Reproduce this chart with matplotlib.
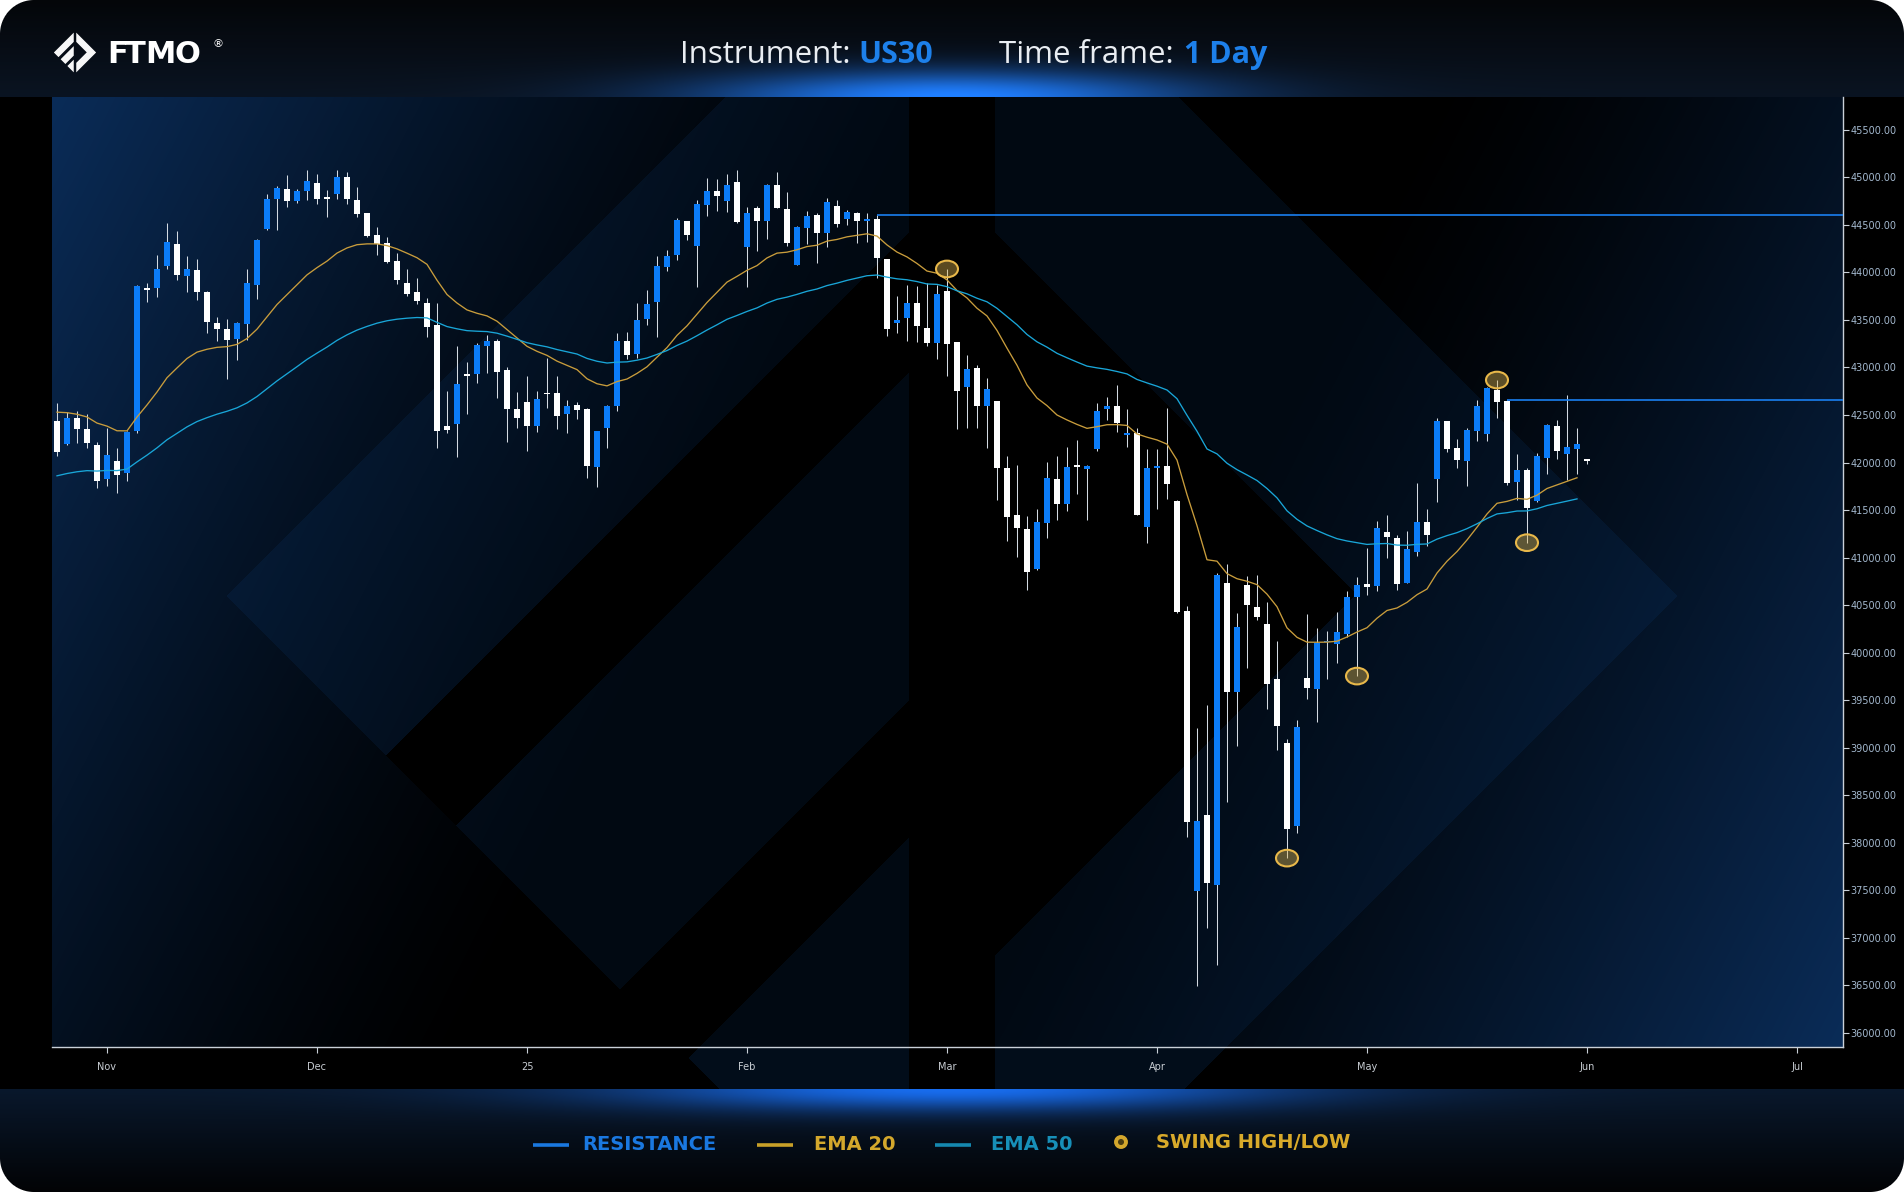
"""US30 daily candles with EMA 20/50, resistance levels and swing markers (FTMO style)."""

import numpy as np
import pandas as pd
import matplotlib

matplotlib.use("Agg")
import matplotlib.pyplot as plt
from matplotlib.patches import Ellipse, Circle
from matplotlib.ticker import FuncFormatter

# ---- data (one candle per trading day, index 0 = 25 Oct) ----
opens = [
    42437, 42195, 42472, 42352, 42184, 41826, 42016, 41893, 42331, 43830,
    43840, 44072, 44300, 43967, 44026, 43794, 43468, 43405, 43303, 43461,
    43868, 44458, 44774, 44879, 44753, 44858, 44942, 44788, 44830, 45005,
    44763, 44626, 44395, 44310, 44121, 43889, 43794, 43679, 43447, 42380,
    42405, 42925, 42935, 43226, 43279, 42974, 42566, 42637, 42387, 42730,
    42731, 42514, 42605, 42563, 41956, 42366, 42595, 43279, 43142, 43514,
    43693, 44061, 44184, 44542, 44279, 44710, 44858, 44753, 44953, 44268,
    44679, 44546, 44921, 44668, 44082, 44468, 44605, 44416, 44700, 44563,
    44626, 44546, 44563, 44142, 43472, 43521, 43679, 43416, 43258, 43805,
    43268, 42795, 42995, 42595, 42647, 41942, 41447, 41300, 40879, 41363,
    41826, 41566, 41962, 41935, 42137, 42560, 42593, 42295, 42306, 41324,
    41950, 41968, 41600, 40437, 37485, 38288, 37553, 40733, 39587, 40711,
    40479, 40301, 39722, 39050, 38178, 39730, 39620, 40110, 40086, 40196,
    40585, 40721, 40700, 41268, 41205, 40731, 41058, 41374, 41826, 42437,
    42153, 42016, 42331, 42300, 42763, 42647, 41795, 41921, 41595, 42050,
    42384, 42089, 42142, 42026,
]
highs = [
    42623, 42528, 42542, 42507, 42212, 42366, 42149, 42330, 43870, 43893,
    44184, 44521, 44437, 44174, 44142, 43800, 43531, 43510, 43479, 44037,
    44350, 44826, 44911, 45026, 44879, 45079, 45037, 44868, 45079, 45061,
    44900, 44630, 44479, 44374, 44205, 44037, 43942, 43732, 43679, 42752,
    43226, 43058, 43258, 43342, 43300, 43005, 42742, 42910, 42752, 43100,
    42910, 42658, 42637, 42570, 42335, 42605, 43363, 43374, 43675, 43816,
    44174, 44237, 44570, 44545, 44763, 44995, 44984, 45037, 45079, 44693,
    44700, 44932, 45054, 44847, 44485, 44647, 44630, 44784, 44763, 44658,
    44640, 44626, 44600, 44145, 43756, 43868, 43858, 43889, 43868, 44037,
    43270, 43131, 43026, 42889, 42650, 42068, 41973, 41437, 41510, 42005,
    42068, 42163, 42237, 41975, 42627, 42691, 42818, 42564, 42361, 42141,
    42141, 42572, 41605, 40487, 39206, 39443, 40838, 40931, 40415, 40805,
    40817, 40530, 40120, 39092, 39295, 40403, 40259, 40225, 40428, 40648,
    40796, 41100, 41384, 41447, 41237, 41279, 41784, 41510, 42468, 42440,
    42247, 42363, 42658, 42790, 42868, 42660, 42089, 41942, 42100, 42405,
    42447, 42710, 42363, 42030,
]
lows = [
    42072, 42184, 42202, 42156, 41735, 41752, 41675, 41805, 42314, 43689,
    43742, 44037, 43921, 43798, 43714, 43367, 43279, 42882, 43079, 43286,
    43724, 44447, 44447, 44689, 44735, 44763, 44725, 44588, 44774, 44725,
    44584, 44374, 44188, 44105, 43879, 43753, 43668, 43321, 42156, 42310,
    42061, 42514, 42840, 42942, 42682, 42216, 42366, 42124, 42324, 42577,
    42356, 42314, 42461, 41840, 41745, 42156, 42545, 43093, 43096, 43447,
    43324, 44019, 44132, 44342, 43851, 44595, 44647, 44640, 44518, 43844,
    44230, 44353, 44680, 44282, 44075, 44300, 44096, 44268, 44482, 44500,
    44314, 44325, 43946, 43335, 43360, 43282, 43272, 43230, 43086, 42910,
    42356, 42366, 42366, 42156, 41609, 41177, 41008, 40658, 40868, 41205,
    41395, 41493, 41672, 41400, 42120, 42445, 42319, 42158, 41443, 41156,
    41515, 41621, 40415, 38060, 36491, 37104, 36707, 38428, 39020, 39836,
    40344, 39409, 38969, 37836, 38102, 39506, 39265, 39718, 39887, 40162,
    39752, 40605, 40647, 40994, 40658, 40731, 41016, 41121, 41584, 42110,
    41942, 41752, 42226, 42226, 42468, 41763, 41605, 41156, 41584, 41879,
    42037, 41816, 41879, 41984,
]
closes = [
    42114, 42472, 42352, 42205, 41805, 42079, 41868, 42324, 43858, 43818,
    44037, 44321, 43974, 44037, 43798, 43479, 43405, 43289, 43468, 43889,
    44342, 44774, 44889, 44753, 44858, 44963, 44774, 44774, 45005, 44774,
    44616, 44384, 44300, 44110, 43921, 43774, 43700, 43426, 42331, 42340,
    42826, 42915, 43237, 43279, 42956, 42566, 42472, 42387, 42668, 42722,
    42493, 42595, 42556, 41966, 42331, 42595, 43279, 43135, 43500, 43668,
    44068, 44174, 44553, 44395, 44721, 44858, 44805, 44921, 44535, 44626,
    44546, 44921, 44682, 44310, 44479, 44595, 44419, 44742, 44514, 44637,
    44546, 44556, 44156, 43405, 43500, 43679, 43440, 43258, 43774, 43251,
    42756, 42984, 42595, 42773, 41942, 41430, 41314, 40847, 41373, 41837,
    41563, 41952, 41955, 41967, 42543, 42593, 42412, 42305, 41452, 41942,
    41960, 41777, 40428, 38216, 38225, 37569, 40817, 39587, 40268, 40500,
    40373, 39667, 39223, 38145, 39214, 39625, 40098, 40122, 40212, 40585,
    40711, 40693, 41310, 41216, 40721, 41089, 41374, 41237, 42437, 42142,
    42026, 42342, 42595, 42784, 42637, 41784, 41921, 41521, 42068, 42395,
    42121, 42163, 42195, 42020,
]

month_ticks = [5, 26, 47, 69, 89, 110, 131, 153, 174]
month_labels = ["Nov", "Dec", "25", "Feb", "Mar", "Apr", "May", "Jun", "Jul"]

resistance_levels = [44600, 42660]
resistance_start = [82, 145]

swing_idx = [89, 123, 130, 144, 147]
swing_kind = ["high", "low", "low", "high", "low"]

# EMA values at the first visible candle
ema20_start = 42530
ema50_start = 41860

# ---- colours ----
BLUE = "#0b7cf8"
WHITE = "#ffffff"
WICK = "#d3dae2"
EMA20_COL = "#c99d3c"
EMA50_COL = "#19a6d8"
RES_COL = "#1a7ff0"
GOLD = "#e8b84a"

W, H, DPI = 1904, 1192, 100
PL, PR, PT, PB = 52, 1843, 97, 1047  # plot area, pixels
FOOT = 1089


def logo_regions(u, v):
    """Split the FTMO diamond (|u|+|v|<=1) into light bands and dark gaps."""
    inside = (np.abs(u) + np.abs(v)) <= 1.0
    s = u + v
    d = v - u
    stripes = (s < -0.56) | ((s >= -0.368) & (s < 0.085)) | (s >= 0.274)
    chevron = (d < -0.56) | (s > 0.555)
    navy = inside & (((u < -0.059) & stripes) | ((u > 0.059) & chevron))
    dark = inside & ~navy
    return navy, dark


def ema(values, span, start):
    s = pd.Series(values, dtype=float)
    s.iloc[0] = start
    return s.ewm(span=span, adjust=False).mean().to_numpy()


# ---- background picture ----
yy, xx = np.mgrid[0:H, 0:W].astype(float)
xx += 0.5
yy += 0.5
img = np.zeros((H, W, 3))

t = np.clip(yy / PT, 0, 1)[..., None]
hcol = (1 - t) * np.array([4, 6, 9]) / 255 + t * np.array([10, 20, 34]) / 255
glow = np.exp(-((xx - 950) / 240) ** 2 - ((yy - PT) / 26) ** 2)[..., None]
hcol = hcol + glow * np.array([22, 108, 225]) / 255
hdr = yy < PT
img[hdr] = hcol[hdr]

t = np.clip((yy - FOOT) / (H - FOOT), 0, 1)[..., None]
fcol = (1 - t) * np.array([9, 24, 44]) / 255 + t * np.array([2, 3, 5]) / 255
glow = np.exp(-((xx - 950) / 330) ** 2 - ((yy - FOOT) / 22) ** 2)[..., None]
fcol = fcol + glow * np.array([15, 85, 195]) / 255
foot = yy >= FOOT
img[foot] = fcol[foot]

# two tilted glows: top-left and bottom-right corners of the plot
s_tl = (xx - PL) + 0.51 * (yy - PT)
s_br = (PR - xx) + 0.51 * (PB - yy)
w = np.maximum(np.clip(1 - s_tl / 900, 0, 1), np.clip(1 - s_br / 900, 0, 1)) ** 1.3
grad = w[..., None] * np.array([10, 44, 88]) / 255
navy, dark = logo_regions((xx - 952.2) / 725.4, (yy - 596.0) / 725.4)
col = grad.copy()
col[navy] = 0.9 * grad[navy] + np.array([1.5, 9, 18]) / 255
col[dark] = grad[dark] * 0.05
plot_area = (xx >= PL) & (xx < PR) & (yy >= PT) & (yy < PB)
img[plot_area] = col[plot_area]
label_band = (xx >= PL) & (xx < PR) & (yy >= PB) & (yy < FOOT) & navy
img[label_band] = np.array([2, 13, 26]) / 255

# small logo mark in the header, supersampled
sub = 4
bx0, by0, bn = 53, 31, 44
gy, gx = np.mgrid[0:bn * sub, 0:bn * sub].astype(float)
gx = bx0 + (gx + 0.5) / sub
gy = by0 + (gy + 0.5) / sub
icon, _ = logo_regions((gx - 75.0) / 21.0, (gy - 52.5) / 21.0)
cov = icon.reshape(bn, sub, bn, sub).mean(axis=(1, 3))[..., None]
patch = img[by0:by0 + bn, bx0:bx0 + bn]
img[by0:by0 + bn, bx0:bx0 + bn] = patch * (1 - cov) + cov * 0.97

r = 34
dxc = np.maximum(np.maximum(r - xx, xx - (W - r)), 0)
dyc = np.maximum(np.maximum(r - yy, yy - (H - r)), 0)
alpha = np.clip(r + 0.5 - np.hypot(dxc, dyc), 0, 1)
rgba = np.dstack([np.clip(img, 0, 1), alpha])

fig = plt.figure(figsize=(W / DPI, H / DPI), dpi=DPI, facecolor="white")
bg = fig.add_axes([0, 0, 1, 1])
bg.imshow(rgba, extent=(0, W, H, 0), interpolation="nearest", aspect="auto", zorder=0)
bg.set_xlim(0, W)
bg.set_ylim(H, 0)
bg.axis("off")

# ---- header ----
for letter, x0 in zip("FTMO", [107, 125, 145, 174]):
    bg.text(x0, 63, letter, color="white", fontsize=22, family="DejaVu Sans",
            weight="bold", va="baseline")
bg.text(212, 47, "®", color="white", fontsize=8, va="baseline")

bg.text(680, 63, "Instrument:", color="#e9edf2", fontsize=22.5, family="Open Sans", va="baseline")
bg.text(858, 63, "US30", color="#1d80ea", fontsize=22, family="Open Sans", weight="bold", va="baseline")
bg.text(999, 63, "Time frame:", color="#e9edf2", fontsize=22.5, family="Open Sans", va="baseline")
bg.text(1184, 63, "1 Day", color="#1d80ea", fontsize=22, family="Open Sans", weight="bold", va="baseline")

# ---- legend in the footer ----
leg_y = 1145
bg.plot([533, 569], [leg_y, leg_y], color="#1a78e0", lw=2.6, solid_capstyle="butt")
bg.text(582, leg_y, "RESISTANCE", color="#1a78e0", fontsize=14, family="DejaVu Sans",
        weight="bold", va="center")
bg.plot([757, 793], [leg_y, leg_y], color="#c9a028", lw=2.6, solid_capstyle="butt")
bg.text(814, leg_y, "EMA 20", color="#d4a82c", fontsize=14, family="DejaVu Sans",
        weight="bold", va="center")
bg.plot([935, 971], [leg_y, leg_y], color="#1588b0", lw=2.6, solid_capstyle="butt")
bg.text(991, leg_y, "EMA 50", color="#178fb8", fontsize=14, family="DejaVu Sans",
        weight="bold", va="center")
bg.add_patch(Circle((1121, 1142), 5.0, facecolor="#4a3c12", edgecolor="#d4a72c", lw=2.8))
bg.text(1156, 1142, "SWING HIGH/LOW", color="#d9aa2a", fontsize=14, family="DejaVu Sans",
        weight="bold", va="center")

# ---- price axes ----
ax = fig.add_axes([PL / W, 1 - PB / H, (PR - PL) / W, (PB - PT) / H])
ax.set_facecolor("none")

o = np.array(opens, dtype=float)
h = np.array(highs, dtype=float)
lo = np.array(lows, dtype=float)
c = np.array(closes, dtype=float)
idx = np.arange(len(c))
rising = c >= o

ax.vlines(idx, lo, h, color=WICK, lw=0.75, zorder=2)
min_body = 20.0
mid = (o + c) / 2
body_h = np.maximum(np.abs(c - o), min_body)
body_bottom = np.where(np.abs(c - o) < min_body, mid - min_body / 2, np.minimum(o, c))
ax.bar(idx, body_h, bottom=body_bottom, width=0.6, color=np.where(rising, BLUE, WHITE),
       linewidth=0, zorder=3)

e20 = ema(closes, 20, ema20_start)
e50 = ema(closes, 50, ema50_start)
last = len(c) - 1
ax.plot(idx[:last], e20[:last], color=EMA20_COL, lw=0.95, zorder=4)
ax.plot(idx[:last], e50[:last], color=EMA50_COL, lw=0.95, zorder=4)

x_right = 178.6
for level, start in zip(resistance_levels, resistance_start):
    ax.plot([start, x_right], [level, level], color=RES_COL, lw=1.2, zorder=4,
            solid_capstyle="butt")

for i, kind in zip(swing_idx, swing_kind):
    price = highs[i] if kind == "high" else lows[i]
    ax.add_patch(Ellipse((i, price), 2.2, 175, facecolor=(0.86, 0.70, 0.30, 0.42),
                         edgecolor=GOLD, lw=1.5, zorder=6))

ax.set_xlim(-0.5, x_right)
ax.set_ylim(35848, 45847)
ax.set_xticks(month_ticks)
ax.set_xticklabels(month_labels)
ax.set_yticks(np.arange(36000, 45501, 500))
ax.yaxis.set_major_formatter(FuncFormatter(lambda v, _: f"{v:.2f}"))
ax.yaxis.tick_right()

for side in ("left", "top"):
    ax.spines[side].set_visible(False)
for side in ("right", "bottom"):
    ax.spines[side].set_color("#c9d0d8")
    ax.spines[side].set_linewidth(1.0)

ax.tick_params(axis="y", colors="#c9d0d8", labelcolor="#a3b8ce", length=4, width=0.8,
               pad=1.5, labelsize=7)
ax.tick_params(axis="x", colors="#c9d0d8", labelcolor="#c8cdd3", length=4, width=0.8,
               pad=7, labelsize=7)

fig.savefig("out.png", dpi=DPI)
